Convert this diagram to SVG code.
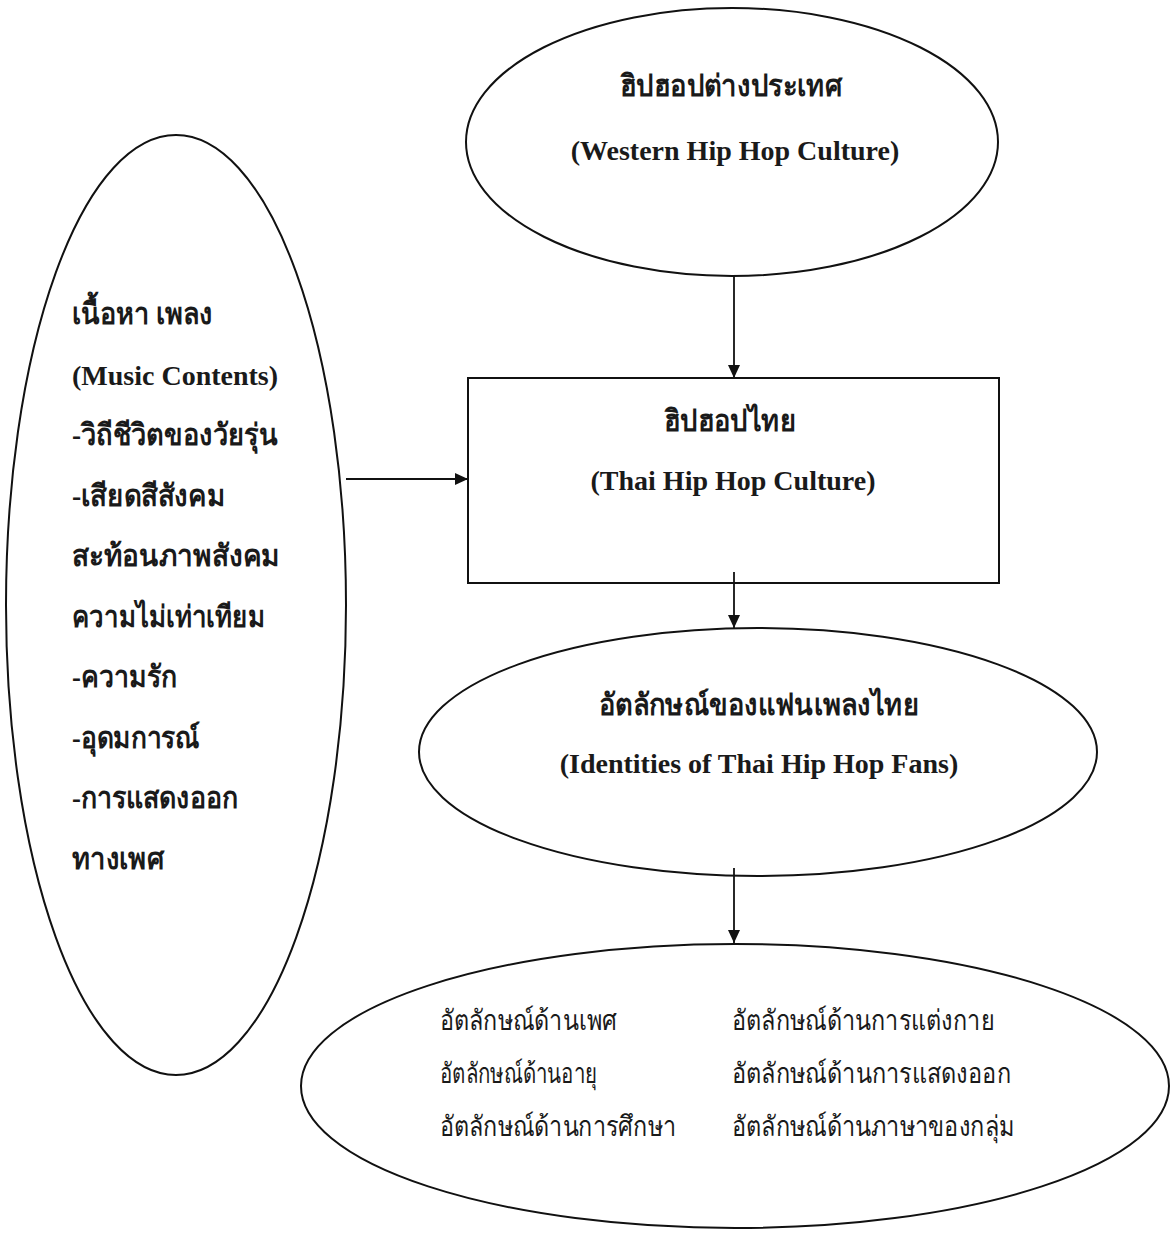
<svg xmlns="http://www.w3.org/2000/svg" width="1174" height="1236" viewBox="0 0 1174 1236">
<style>
.shape{fill:none;stroke:#111;stroke-width:2}
.conn{stroke:#111;stroke-width:1.8;fill:none}
.en{font-family:"Liberation Serif","Times New Roman",serif;font-weight:bold;font-size:28px;fill:#1a1a1a}
.th{font-family:"Liberation Serif","DejaVu Serif",serif;font-weight:bold;font-size:30px;fill:#1a1a1a}
.thn{font-family:"Liberation Sans","DejaVu Sans",sans-serif;font-size:28px;fill:#1a1a1a}
</style>
<defs>
<marker id="arr" markerUnits="userSpaceOnUse" markerWidth="14" markerHeight="12" refX="13" refY="6" orient="auto">
<path d="M0,0 L13,6 L0,12 z" fill="#111"/>
</marker>
</defs>
<rect width="1174" height="1236" fill="#fff"/>
<g id="connectors">
<line class="conn" x1="734" y1="276" x2="734" y2="378" marker-end="url(#arr)"/>
<line class="conn" x1="346" y1="479" x2="468" y2="479" marker-end="url(#arr)"/>
<line class="conn" x1="734" y1="572" x2="734" y2="628" marker-end="url(#arr)"/>
<line class="conn" x1="734" y1="868" x2="734" y2="943" marker-end="url(#arr)"/>
</g>
<g id="node-western">
<ellipse class="shape" cx="732" cy="142" rx="266" ry="134"/>
<text class="th" x="731" y="96" text-anchor="middle" textLength="222" lengthAdjust="spacingAndGlyphs">ฮิปฮอปต่างประเทศ</text>
<text class="en" x="735" y="160" text-anchor="middle">(Western Hip Hop Culture)</text>
</g>
<g id="node-music">
<ellipse class="shape" cx="176" cy="605" rx="170" ry="470"/>
<text class="th" x="72" y="324" textLength="141" lengthAdjust="spacingAndGlyphs">เนื้อหา เพลง</text>
<text class="en" x="72" y="385">(Music Contents)</text>
<text class="th" x="72" y="445" textLength="206" lengthAdjust="spacingAndGlyphs">-วิถีชีวิตของวัยรุ่น</text>
<text class="th" x="72" y="506" textLength="153" lengthAdjust="spacingAndGlyphs">-เสียดสีสังคม</text>
<text class="th" x="72" y="566" textLength="208" lengthAdjust="spacingAndGlyphs">สะท้อนภาพสังคม</text>
<text class="th" x="72" y="627" textLength="193" lengthAdjust="spacingAndGlyphs">ความไม่เท่าเทียม</text>
<text class="th" x="72" y="687" textLength="105" lengthAdjust="spacingAndGlyphs">-ความรัก</text>
<text class="th" x="72" y="748" textLength="128" lengthAdjust="spacingAndGlyphs">-อุดมการณ์</text>
<text class="th" x="72" y="808" textLength="166" lengthAdjust="spacingAndGlyphs">-การแสดงออก</text>
<text class="th" x="72" y="869" textLength="92" lengthAdjust="spacingAndGlyphs">ทางเพศ</text>
</g>
<g id="node-thai">
<rect class="shape" x="468" y="378" width="531" height="205"/>
<text class="th" x="730" y="431" text-anchor="middle" textLength="132" lengthAdjust="spacingAndGlyphs">ฮิปฮอปไทย</text>
<text class="en" x="733" y="490" text-anchor="middle">(Thai Hip Hop Culture)</text>
</g>
<g id="node-identities">
<ellipse class="shape" cx="758" cy="752" rx="339" ry="124"/>
<text class="th" x="759" y="715" text-anchor="middle" textLength="320" lengthAdjust="spacingAndGlyphs">อัตลักษณ์ของแฟนเพลงไทย</text>
<text class="en" x="759" y="773" text-anchor="middle">(Identities of Thai Hip Hop Fans)</text>
</g>
<g id="node-aspects">
<ellipse class="shape" cx="735" cy="1086" rx="434" ry="142"/>
<text class="thn" x="440" y="1030" textLength="177" lengthAdjust="spacingAndGlyphs">อัตลักษณ์ด้านเพศ</text>
<text class="thn" x="440" y="1083" textLength="157" lengthAdjust="spacingAndGlyphs">อัตลักษณ์ด้านอายุ</text>
<text class="thn" x="440" y="1136" textLength="236" lengthAdjust="spacingAndGlyphs">อัตลักษณ์ด้านการศึกษา</text>
<text class="thn" x="732" y="1030" textLength="262" lengthAdjust="spacingAndGlyphs">อัตลักษณ์ด้านการแต่งกาย</text>
<text class="thn" x="732" y="1083" textLength="279" lengthAdjust="spacingAndGlyphs">อัตลักษณ์ด้านการแสดงออก</text>
<text class="thn" x="732" y="1136" textLength="282" lengthAdjust="spacingAndGlyphs">อัตลักษณ์ด้านภาษาของกลุ่ม</text>
</g>
</svg>
